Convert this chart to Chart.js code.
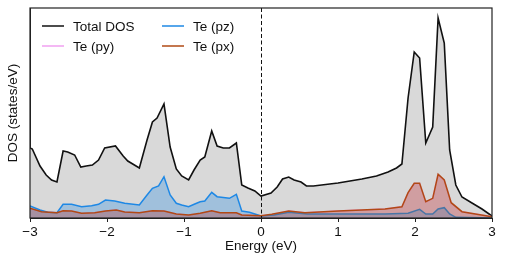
<!DOCTYPE html>
<html>
<head>
<meta charset="utf-8">
<script src="https://cdn.jsdelivr.net/npm/chart.js@4.4.0/dist/chart.umd.min.js"></script>
<style>
  html, body { margin: 0; padding: 0; background: #fff; }
  #wrap { width: 505px; height: 262px; }
</style>
</head>
<body>
<div id="wrap"><canvas id="dosChart"></canvas></div>
<script>
// Total DOS
const totalE = [-3.0, -2.97, -2.87, -2.79, -2.72, -2.65, -2.57, -2.51, -2.42, -2.34, -2.27, -2.19, -2.11, -2.03, -1.89, -1.79, -1.73, -1.58, -1.48, -1.41, -1.35, -1.26, -1.18, -1.10, -1.03, -0.94, -0.87, -0.79, -0.73, -0.64, -0.57, -0.49, -0.41, -0.32, -0.25, -0.17, -0.08, 0.0, 0.13, 0.21, 0.28, 0.36, 0.43, 0.52, 0.59, 0.68, 1.0, 1.31, 1.50, 1.65, 1.76, 1.83, 1.91, 1.99, 2.06, 2.14, 2.23, 2.30, 2.38, 2.45, 2.53, 2.61, 2.74, 2.87, 3.0];
const totalDos = [7.0, 6.9, 5.2, 4.3, 3.8, 3.6, 6.7, 6.6, 6.3, 5.1, 5.2, 5.3, 5.8, 7.0, 7.2, 6.2, 5.7, 5.0, 7.8, 9.6, 10.0, 11.4, 7.1, 4.9, 4.2, 3.8, 4.8, 5.8, 6.1, 8.7, 7.2, 7.0, 7.0, 7.5, 3.3, 3.0, 2.7, 2.2, 2.5, 3.1, 3.9, 4.1, 3.8, 3.6, 3.2, 3.2, 3.5, 3.9, 4.2, 4.6, 5.0, 5.4, 12.0, 16.6, 16.0, 7.5, 9.1, 20.0, 17.5, 6.8, 3.3, 2.1, 1.5, 0.9, 0.2];

// Te (pz)
const pzE = [-3.0, -2.87, -2.77, -2.65, -2.57, -2.46, -2.33, -2.20, -2.11, -2.02, -1.90, -1.77, -1.58, -1.48, -1.41, -1.33, -1.26, -1.18, -1.10, -1.03, -0.94, -0.86, -0.79, -0.73, -0.64, -0.57, -0.41, -0.32, -0.25, -0.15, -0.08, 0.0, 0.17, 0.36, 0.6, 1.61, 1.91, 2.06, 2.14, 2.23, 2.30, 2.38, 2.45, 2.53, 3.0];
const pzDos = [1.2, 0.8, 0.57, 0.53, 1.37, 1.37, 1.13, 1.23, 1.37, 1.8, 1.7, 1.47, 1.3, 2.3, 2.97, 3.2, 4.13, 2.3, 1.47, 1.3, 1.13, 1.4, 1.63, 1.7, 2.57, 2.13, 1.97, 2.37, 0.7, 0.57, 0.4, 0.2, 0.3, 0.57, 0.4, 0.4, 0.47, 0.87, 0.4, 0.4, 0.9, 1.03, 0.4, 0.07, 0.0];

// Te (px) and Te (py)
const pxE = [-3.0, -2.85, -2.65, -2.57, -2.46, -2.33, -2.16, -2.02, -1.88, -1.77, -1.58, -1.41, -1.26, -1.10, -0.94, -0.79, -0.64, -0.53, -0.32, -0.25, 0.0, 0.14, 0.36, 0.57, 1.0, 1.61, 1.83, 1.91, 1.99, 2.06, 2.14, 2.23, 2.30, 2.38, 2.47, 2.61, 3.0];
const pxDos = [0.97, 0.63, 0.53, 0.73, 0.7, 0.47, 0.53, 0.7, 0.8, 0.6, 0.53, 0.73, 0.7, 0.4, 0.3, 0.47, 0.73, 0.53, 0.53, 0.3, 0.23, 0.37, 0.7, 0.53, 0.7, 0.9, 1.13, 2.53, 3.47, 3.47, 1.63, 1.97, 4.37, 3.8, 1.53, 0.63, 0.13];
const pyE = pxE;
const pyDos = [0.95, 0.62, 0.52, 0.72, 0.69, 0.46, 0.52, 0.69, 0.79, 0.59, 0.52, 0.72, 0.69, 0.39, 0.29, 0.46, 0.72, 0.52, 0.52, 0.29, 0.22, 0.36, 0.69, 0.52, 0.69, 0.89, 1.12, 2.5, 3.44, 3.44, 1.6, 1.95, 4.34, 3.77, 1.5, 0.62, 0.12];

const xTicks = [-3, -2, -1, 0, 1, 2, 3];

function toPoints(xs, ys) {
  return xs.map((x, i) => ({ x: x, y: ys[i] }));
}

const FONT = '"Liberation Sans", Arial, sans-serif';

// frame, Fermi level line and legend
const decorPlugin = {
  id: 'decor',
  afterDatasetsDraw(chart) {
    const { ctx, chartArea: a, scales } = chart;
    const x0 = scales.x.getPixelForValue(0);
    ctx.save();
    ctx.strokeStyle = '#111';
    ctx.lineWidth = 1;
    ctx.setLineDash([4, 2.5]);
    ctx.beginPath();
    ctx.moveTo(Math.round(x0) + 0.5, a.top);
    ctx.lineTo(Math.round(x0) + 0.5, a.bottom);
    ctx.stroke();
    ctx.setLineDash([]);
    ctx.strokeStyle = '#222';
    ctx.lineWidth = 1.2;
    ctx.strokeRect(a.left, a.top, a.right - a.left, a.bottom - a.top);

    // legend, two columns
    const items = [
      { ds: 0, col: 0, row: 0 },
      { ds: 1, col: 0, row: 1 },
      { ds: 2, col: 1, row: 0 },
      { ds: 3, col: 1, row: 1 }
    ];
    ctx.font = '13.5px ' + FONT;
    ctx.textBaseline = 'middle';
    items.forEach(it => {
      const ds = chart.data.datasets[it.ds];
      const lx = 42 + it.col * 120;
      const ly = 26 + it.row * 20;
      ctx.strokeStyle = ds.borderColor;
      ctx.lineWidth = 1.5;
      ctx.beginPath();
      ctx.moveTo(lx, ly);
      ctx.lineTo(lx + 22, ly);
      ctx.stroke();
      ctx.fillStyle = '#111';
      ctx.fillText(ds.label, lx + 31, ly + 1);
    });
    ctx.restore();
  }
};

const ctx = document.getElementById('dosChart').getContext('2d');
new Chart(ctx, {
  type: 'line',
  data: {
    datasets: [
      {
        label: 'Total DOS',
        data: toPoints(totalE, totalDos),
        borderColor: '#111',
        backgroundColor: '#d9d9d9',
        borderWidth: 1.6,
        fill: 'origin',
        order: 4
      },
      {
        label: 'Te (py)',
        data: toPoints(pyE, pyDos),
        borderColor: '#f0a0f0',
        backgroundColor: 'rgba(238, 130, 238, 0.25)',
        borderWidth: 1.5,
        fill: 'origin',
        order: 3
      },
      {
        label: 'Te (pz)',
        data: toPoints(pzE, pzDos),
        borderColor: '#1e88e5',
        backgroundColor: 'rgba(30, 136, 229, 0.3)',
        borderWidth: 1.5,
        fill: 'origin',
        order: 2
      },
      {
        label: 'Te (px)',
        data: toPoints(pxE, pxDos),
        borderColor: '#b04a14',
        backgroundColor: 'rgba(176, 74, 20, 0.3)',
        borderWidth: 1.5,
        fill: 'origin',
        order: 1
      }
    ]
  },
  options: {
    responsive: true,
    maintainAspectRatio: false,
    animation: false,
    layout: { padding: { top: 8, right: 13, left: 0, bottom: 8 } },
    elements: { point: { radius: 0 }, line: { tension: 0 } },
    plugins: {
      legend: { display: false },
      tooltip: { enabled: false }
    },
    scales: {
      x: {
        type: 'linear',
        min: -3,
        max: 3,
        afterBuildTicks: (s) => { s.ticks = xTicks.map(v => ({ value: v })); },
        afterFit: (s) => { s.height = 36; },
        grid: { drawOnChartArea: false, drawTicks: true, tickLength: 4, color: '#222' },
        border: { display: true, color: '#222' },
        ticks: {
          color: '#111',
          padding: 2,
          maxRotation: 0,
          font: { family: FONT, size: 13.5 },
          callback: (v) => (v < 0 ? '\u2212' + Math.abs(v) : String(v))
        },
        title: {
          display: true,
          text: 'Energy (eV)',
          color: '#111',
          font: { family: FONT, size: 13.5 },
          padding: { top: 2, bottom: 0 }
        }
      },
      y: {
        min: 0,
        max: 21,
        afterFit: (s) => { s.width = 30; },
        grid: { display: false },
        border: { display: true, color: '#222' },
        ticks: { display: false },
        title: {
          display: true,
          text: 'DOS (states/eV)',
          color: '#111',
          font: { family: FONT, size: 13.5 },
          padding: { top: 5, bottom: 0 }
        }
      }
    }
  },
  plugins: [decorPlugin]
});
</script>
</body>
</html>
